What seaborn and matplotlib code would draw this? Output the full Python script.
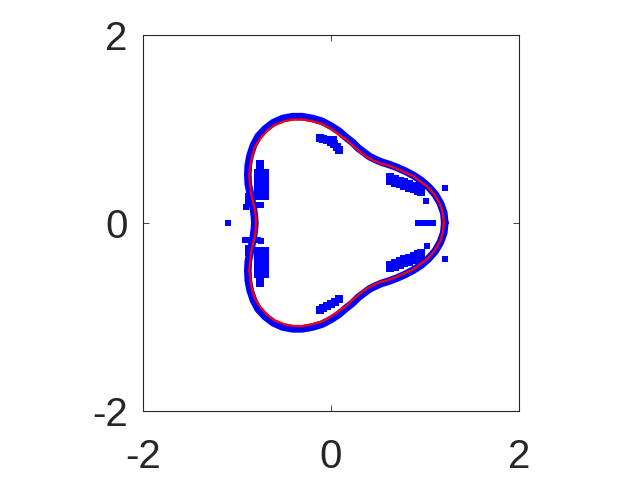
import matplotlib
matplotlib.use("Agg")
import matplotlib.pyplot as plt
import seaborn as sns

# red curve (counter-clockwise from the right tip)
red_x = [1.20, 1.19, 1.16, 1.10, 1.03, 0.95, 0.87, 0.78, 0.69, 0.61, 0.53, 0.46, 0.40,
         0.34, 0.28, 0.22, 0.16, 0.08, 0.00, -0.09, -0.19, -0.30, -0.40, -0.50, -0.60,
         -0.68, -0.75, -0.81, -0.84, -0.86, -0.87, -0.86, -0.85, -0.83, -0.81, -0.80, -0.80,
         -0.80, -0.81, -0.83, -0.85, -0.86, -0.87, -0.86, -0.84, -0.81, -0.75, -0.68, -0.60,
         -0.50, -0.40, -0.30, -0.19, -0.09, 0.00, 0.08, 0.16, 0.22, 0.28, 0.34, 0.40,
         0.46, 0.53, 0.61, 0.69, 0.78, 0.87, 0.95, 1.03, 1.10, 1.16, 1.19, 1.20]
red_y = [0.00, 0.10, 0.20, 0.30, 0.38, 0.44, 0.50, 0.54, 0.58, 0.61, 0.63, 0.66, 0.69,
         0.73, 0.78, 0.83, 0.89, 0.94, 1.00, 1.05, 1.08, 1.10, 1.10, 1.08, 1.04,
         0.98, 0.90, 0.81, 0.71, 0.60, 0.50, 0.40, 0.31, 0.22, 0.14, 0.07, 0.00,
         -0.07, -0.14, -0.22, -0.31, -0.40, -0.50, -0.60, -0.71, -0.81, -0.90, -0.98, -1.04,
         -1.08, -1.10, -1.10, -1.08, -1.05, -1.00, -0.94, -0.89, -0.83, -0.78, -0.73, -0.69,
         -0.66, -0.63, -0.61, -0.58, -0.54, -0.50, -0.44, -0.38, -0.30, -0.20, -0.10, 0.00]

# thick band of blue points hugging the curve (upper half, right tip to left dent)
band_up_x = [1.21, 1.20, 1.165, 1.11, 1.04, 0.96, 0.875, 0.79, 0.70, 0.62, 0.54, 0.47, 0.41,
             0.35, 0.29, 0.23, 0.16, 0.085, 0.00, -0.095, -0.195, -0.305, -0.41, -0.515, -0.615,
             -0.70, -0.775, -0.825, -0.86, -0.88, -0.885, -0.88, -0.86, -0.84, -0.825, -0.815, -0.81]
band_up_y = [0.00, 0.105, 0.205, 0.30, 0.38, 0.45, 0.505, 0.55, 0.59, 0.62, 0.645, 0.675, 0.705,
             0.75, 0.795, 0.855, 0.91, 0.975, 1.03, 1.08, 1.11, 1.13, 1.13, 1.11, 1.065,
             1.00, 0.92, 0.825, 0.72, 0.615, 0.51, 0.41, 0.315, 0.225, 0.145, 0.07, 0.00]
# lower half is the same band mirrored in the picture
band_dn_x = band_up_x[-2::-1]
band_dn_y = [-v for v in band_up_y[-2::-1]]

# separate blue clusters
left_up_x = [-0.78, -0.74, -0.70] * 6 + [-0.76, -0.76]
left_up_y = [0.28] * 3 + [0.33] * 3 + [0.38] * 3 + [0.43] * 3 + [0.48] * 3 + [0.53] * 3 + \
            [0.58, 0.63]
left_dn_x = [-0.78, -0.74, -0.70] * 6 + [-0.76, -0.76]
left_dn_y = [-0.30] * 3 + [-0.35] * 3 + [-0.40] * 3 + [-0.45] * 3 + [-0.50] * 3 + [-0.55] * 3 + \
            [-0.60, -0.64]
inner_up_x = [-0.12, -0.08, -0.04, 0.00, 0.03, 0.06, 0.09, 0.02]
inner_up_y = [0.90, 0.89, 0.88, 0.86, 0.84, 0.81, 0.78, 0.88]
inner_dn_x = [-0.12, -0.08, -0.04, 0.00, 0.04, 0.08]
inner_dn_y = [-0.93, -0.91, -0.89, -0.87, -0.84, -0.81]
right_up_x = [0.63, 0.68, 0.73, 0.78, 0.83, 0.88, 0.93, 0.96] * 2
right_up_y = [0.485, 0.467, 0.449, 0.431, 0.413, 0.395, 0.377, 0.366,
              0.445, 0.427, 0.409, 0.391, 0.373, 0.355, 0.337, 0.326]
right_dn_x = [0.63, 0.68, 0.73, 0.78, 0.83, 0.88, 0.93, 0.96] * 2
right_dn_y = [-0.445, -0.427, -0.409, -0.391, -0.373, -0.355, -0.337, -0.326,
              -0.485, -0.467, -0.449, -0.431, -0.413, -0.395, -0.377, -0.366]

# single small points
lone_x = [-1.10, 1.21, 1.01, 1.02, 1.21, 0.93, 0.97, 1.01, 1.05, 1.08,
          -0.90, -0.88, -0.88, -0.78, -0.75, -0.92, -0.88, -0.78, -0.75, -0.88, -0.88]
lone_y = [0.00, 0.37, 0.23, -0.25, -0.39, 0.00, 0.00, 0.00, 0.00, 0.00,
          0.17, 0.22, 0.28, 0.19, 0.19, -0.18, -0.18, -0.18, -0.19, -0.27, -0.32]

ticks = [-2, 0, 2]

sns.set_style("white")
plt.rcParams['font.family'] = ['Liberation Sans', 'DejaVu Sans']
plt.rcParams['axes.unicode_minus'] = False

fig = plt.figure(figsize=(6.41, 4.79), dpi=100)
ax = fig.add_axes([143 / 641, 68.5 / 479, 376 / 641, 375.5 / 479])

blue = '#0000ff'
sns.lineplot(x=band_up_x + band_dn_x, y=band_up_y + band_dn_y, sort=False, estimator=None,
             color=blue, lw=5.5, ax=ax)
cl_x = left_up_x + left_dn_x + inner_up_x + inner_dn_x + right_up_x + right_dn_x
cl_y = left_up_y + left_dn_y + inner_up_y + inner_dn_y + right_up_y + right_dn_y
sns.scatterplot(x=cl_x, y=cl_y, marker='s', s=30, color=blue, linewidth=0, ax=ax)
sns.scatterplot(x=lone_x, y=lone_y, marker='s', s=16, color=blue, linewidth=0, ax=ax)
sns.lineplot(x=red_x, y=red_y, sort=False, estimator=None, color='#ff0000', lw=1.6, ax=ax)

ax.set_xlim(-2, 2)
ax.set_ylim(-2, 2)
ax.set_xticks(ticks)
ax.set_yticks(ticks)
ax.set_xticklabels([str(t) for t in ticks])
ax.set_yticklabels([str(t) for t in ticks])
ax.tick_params(direction='in', length=4, width=0.6, color='#262626', labelcolor='#262626',
               labelsize=29, bottom=True, left=True, top=True, right=True)
ax.tick_params(axis='x', pad=20)
ax.tick_params(axis='y', pad=11)
for s in ax.spines.values():
    s.set_color('#262626')
    s.set_linewidth(0.8)

fig.savefig('out.png', dpi=100)
